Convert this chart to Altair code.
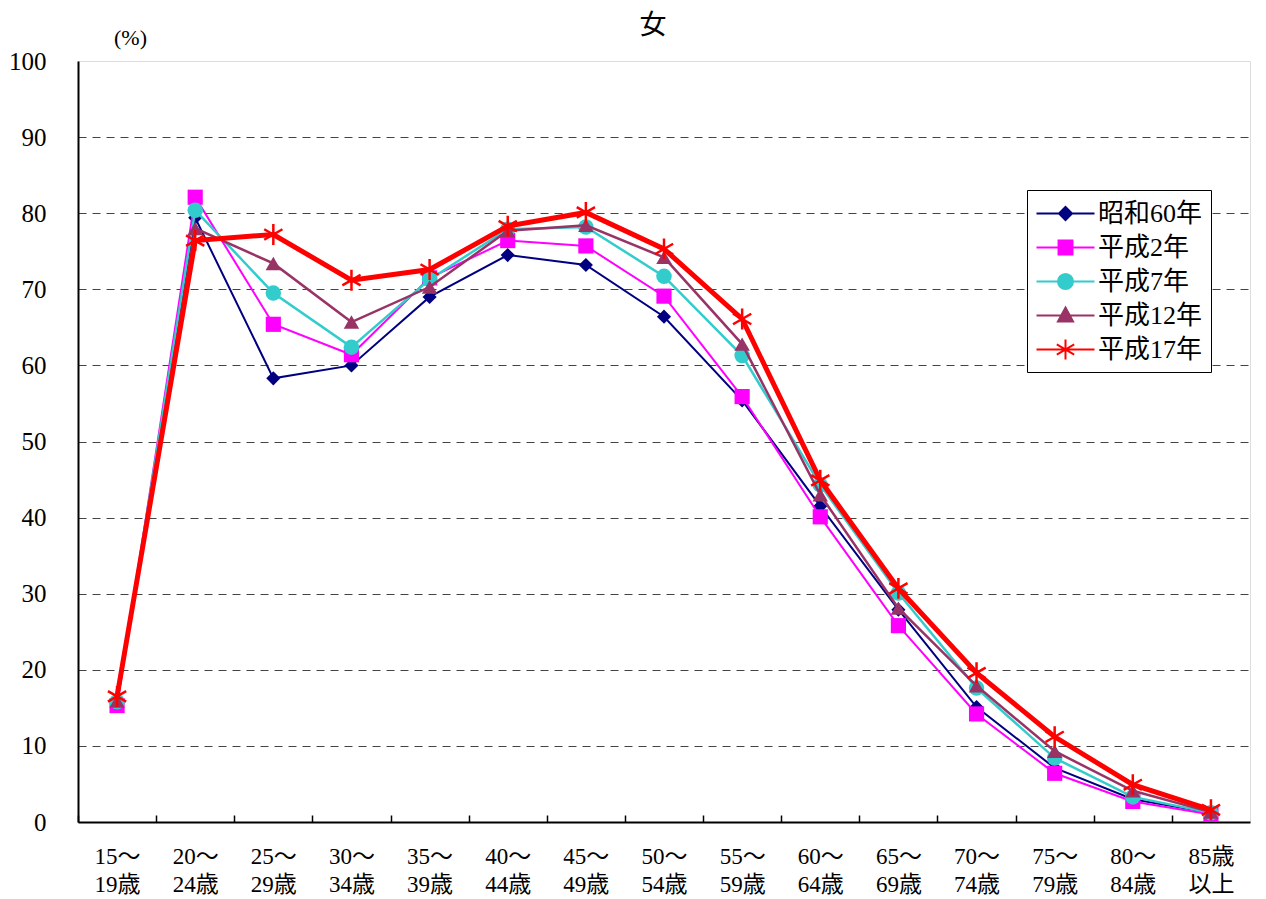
import altair as alt
import pandas as pd

categories = ["15～19歳", "20～24歳", "25～29歳", "30～34歳", "35～39歳", "40～44歳",
              "45～49歳", "50～54歳", "55～59歳", "60～64歳", "65～69歳", "70～74歳",
              "75～79歳", "80～84歳", "85歳以上"]
series = ["昭和60年", "平成2年", "平成7年", "平成12年", "平成17年"]
s60 = [15.6, 79.4, 58.3, 60.0, 69.0, 74.5, 73.2, 66.4, 55.4, 41.5, 27.9, 15.1, 7.1, 3.0, 1.2]
h02 = [15.3, 82.1, 65.4, 61.4, 71.5, 76.4, 75.7, 69.1, 55.9, 40.1, 25.8, 14.2, 6.4, 2.7, 1.0]
h07 = [15.8, 80.4, 69.5, 62.4, 71.3, 77.9, 78.2, 71.7, 61.3, 44.3, 30.1, 17.6, 8.4, 3.3, 1.2]
h12 = [15.9, 78.0, 73.4, 65.7, 70.3, 77.7, 78.4, 74.2, 62.8, 43.0, 28.1, 17.9, 9.3, 4.1, 1.3]
h17 = [16.5, 76.4, 77.2, 71.2, 72.6, 78.3, 80.1, 75.3, 66.1, 44.9, 30.7, 19.6, 11.2, 4.9, 1.6]
values = [s60, h02, h07, h12, h17]

colors = ["#000080", "#FF00FF", "#33CCCC", "#993366", "#FF0000"]
line_widths = [2, 2, 2.5, 2.5, 5]
STAR = "M0,-1L0,1M-0.87,-0.5L0.87,0.5M-0.87,0.5L0.87,-0.5"
shapes = ["diamond", "square", "circle", "triangle-up", STAR]
sizes = [200, 230, 240, 240, 440]

# legend glyphs: a line segment with the marker in its middle (unit = 14.5 px)
legend_paths = [
    "M-2,0L2,0M0,-0.45L0.45,0L0,0.45L-0.45,0Z",
    "M-2,0L2,0M-0.48,-0.48L0.48,-0.48L0.48,0.48L-0.48,0.48Z",
    "M-2,0L2,0M-0.52,0A0.52,0.52 0 1,0 0.52,0A0.52,0.52 0 1,0 -0.52,0Z",
    "M-2,0L2,0M0,-0.55L0.52,0.41L-0.52,0.41Z",
    "M-2,0L2,0M0,-0.69L0,0.69M-0.6,-0.35L0.6,0.35M-0.6,0.35L0.6,-0.35",
]

rows = []
for s, vals in zip(series, values):
    for c, v in zip(categories, vals):
        rows.append({"age": c, "series": s, "value": v})
df = pd.DataFrame(rows)

FONT = "Liberation Serif, Noto Sans CJK JP, serif"
W, H = 1172, 761
STEP = W / len(categories)

legend = alt.Legend(
    title=None, orient="none", legendX=949, legendY=129,
    fillColor="white", strokeColor="black", padding=8,
    labelFont=FONT, labelFontSize=26, labelColor="black",
    symbolSize=841, symbolOffset=15, labelOffset=17, rowPadding=5, symbolOpacity=1,
)

xscale = alt.Scale(type="band", domain=categories, paddingInner=0, paddingOuter=0)
yscale = alt.Scale(domain=[0, 100])

x_axis = alt.Axis(
    title=None, labelAngle=0, domain=False, grid=False,
    ticks=True, tickSize=7, tickColor="black", tickWidth=1.5,
    tickOffset=-STEP / 2, labelOffset=STEP / 2, offset=-7,
    labelFont=FONT, labelFontSize=23, labelColor="black",
    labelPadding=23, labelLineHeight=28, labelBaseline="top",
    labelExpr="[slice(datum.label, 0, 3), slice(datum.label, 3)]",
)
y_axis = alt.Axis(
    title="(%)", titleAngle=0, titleX=52, titleY=-24, titleAlign="center",
    titleBaseline="middle", titleFont=FONT, titleFontSize=22, titleFontWeight="normal",
    titleColor="black", values=list(range(0, 101, 10)), ticks=False,
    labelFont=FONT, labelFontSize=25, labelColor="black", labelPadding=32,
    domain=True, domainColor="black", domainWidth=2,
    grid=True,
    gridColor={"condition": {"test": "datum.value === 0", "value": "black"},
               "value": "#444444"},
    gridDash={"condition": {"test": "datum.value === 0 || datum.value === 100", "value": [1, 0]},
              "value": [8, 6]},
    gridWidth={"condition": {"test": "datum.value === 0", "value": 2}, "value": 1},
    gridOpacity={"condition": {"test": "datum.value === 100", "value": 0}, "value": 1},
)

X = alt.X("age:N", sort=categories, scale=xscale, axis=x_axis)
Y = alt.Y("value:Q", scale=yscale, axis=y_axis)

base = alt.Chart(df)
layers = []
for i, s in enumerate(series):
    sub = base.transform_filter(alt.datum.series == s)
    line = sub.mark_line(strokeWidth=line_widths[i], color=colors[i]).encode(x=X, y=Y)
    if i == len(series) - 1:
        pt = sub.mark_point(shape=shapes[i], size=sizes[i], filled=False, color=colors[i],
                            strokeWidth=2.5, opacity=1).encode(x=X, y=Y)
    else:
        pt = sub.mark_point(shape=shapes[i], size=sizes[i], filled=True, color=colors[i],
                            opacity=1).encode(x=X, y=Y)
    layers += [line, pt]

# legend-only layer (its rows are filtered out); symbols = line + marker
legend_layer = base.transform_filter("false").mark_point(
    size=841, opacity=1, fillOpacity=1, strokeOpacity=1
).encode(
    x=X, y=Y,
    fill=alt.Fill("series:N", scale=alt.Scale(domain=series, range=colors), legend=legend),
    stroke=alt.Stroke("series:N", scale=alt.Scale(domain=series, range=colors), legend=legend),
    shape=alt.Shape("series:N", scale=alt.Scale(domain=series, range=legend_paths), legend=legend),
    strokeWidth=alt.StrokeWidth("series:N", scale=alt.Scale(domain=series, range=line_widths),
                                legend=legend),
)

chart = alt.layer(*layers, legend_layer).properties(
    width=W, height=H,
    autosize=alt.AutoSizeParams(type="none"),
    padding={"left": 70, "top": 53, "right": 8, "bottom": 75},
    title=alt.TitleParams("女", font=FONT, fontSize=27, fontWeight="normal",
                          color="black", anchor="middle", dx=-11, dy=14, offset=0),
).configure_view(stroke="#808080", strokeWidth=2).configure(background="white")

chart.save("out.html", embed_options={"renderer": "svg", "actions": False})
